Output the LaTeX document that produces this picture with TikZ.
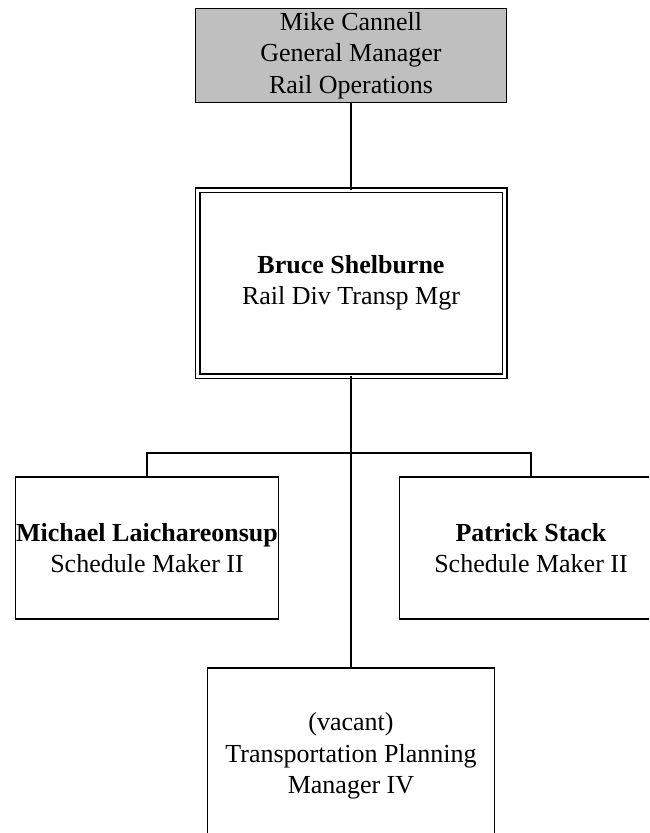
\documentclass[tikz,border=0pt]{standalone}
\usepackage{fontspec}
\setmainfont{Liberation Serif}
\usepackage{tikz}
\usetikzlibrary{positioning}
\tikzset{
  obox/.style={draw, line width=1.5pt, align=center, inner sep=0pt, outer sep=0pt,
               font=\fontsize{26}{31.5}\selectfont},
  headbox/.style={obox, fill=black!25, minimum width=311pt, minimum height=94pt},
  divbox/.style={obox, double, double distance=3pt, line width=1.5pt,
                 minimum width=307pt, minimum height=186pt},
  staffbox/.style={obox, minimum width=263pt, minimum height=142pt},
  vacbox/.style={obox, minimum width=287pt, minimum height=176pt},
  link/.style={line width=1.5pt},
}
\begin{document}
\begin{tikzpicture}[x=1pt, y=1pt]
  \clip (0,0) rectangle (649,-833);
  \node[headbox] (gm) at (351,-55.5) {Mike Cannell\\General Manager\\Rail Operations};
  \node[divbox, below=87.5pt of gm] (tm) {\textbf{Bruce Shelburne}\\Rail Div Transp Mgr};
  \node[staffbox, below=101pt of tm, xshift=-204pt] (sm1) {\textbf{Michael Laichareonsup}\\Schedule Maker II};
  \node[staffbox, below=101pt of tm, xshift=180pt] (sm2) {\textbf{Patrick Stack}\\Schedule Maker II};
  \node[vacbox, below=292pt of tm] (tpm) {(vacant)\\Transportation Planning\\Manager IV};
  \coordinate (fork) at (351,-453);
  \draw[link] (gm) -- (tm);
  \draw[link] (tm) -- (tpm);
  \draw[link] (sm1.north) |- (fork) -| (sm2.north);
\end{tikzpicture}
\end{document}
